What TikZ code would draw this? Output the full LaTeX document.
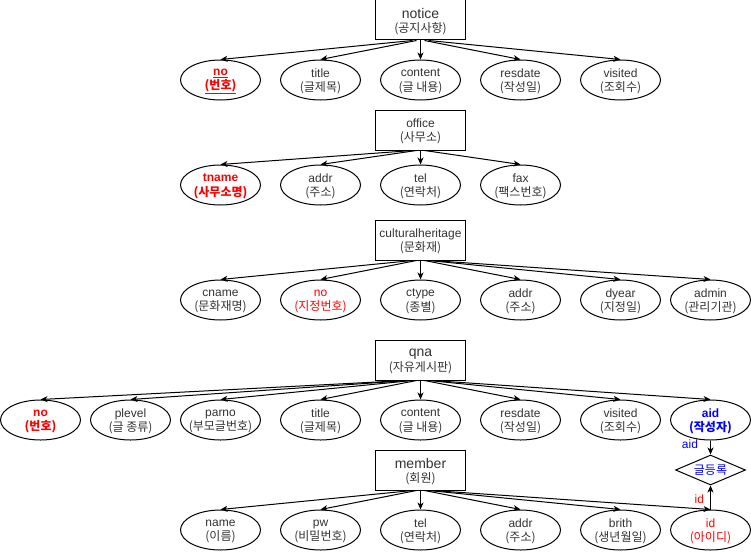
\documentclass[tikz,border=0pt]{standalone}
\usepackage{fontspec}
\setmainfont{Liberation Sans}
\newfontfamily\kr{Noto Sans CJK KR}
\usetikzlibrary{arrows.meta,shapes.geometric}
\definecolor{txt}{HTML}{333333}
\definecolor{myred}{HTML}{FF0000}
\definecolor{myblue}{HTML}{0000FF}
\newcommand{\A}[6]{\node[attr,label={[lbl,#2]center:{#3\\{\kr #4}}}] (#1) at (#5,#6) {};}
\newcommand{\E}[6]{\node[ent,label={[lbl,#2]center:{{\fontsize{#3}{16}\selectfont #4}\\{\kr #5}}}] (#1) at (420.5,#6) {};}
\begin{document}
\begin{tikzpicture}[x=1pt,y=-1pt,
  lbl/.style={align=center,font=\fontsize{12}{14.5}\selectfont,text=txt,inner sep=0pt,yshift=-1.5pt},
  bld/.style={font=\fontsize{12}{14.5}\selectfont\bfseries},
  attr/.style={ellipse,draw,line width=1pt,minimum width=80pt,minimum height=40pt,inner sep=0pt},
  ent/.style={rectangle,draw,line width=1pt,minimum width=90pt,minimum height=40pt,inner sep=0pt},
  rel/.style={diamond,draw,line width=1pt,minimum width=70pt,minimum height=30pt,inner sep=0pt},
  conn/.style={line width=1pt,-{Stealth[length=7pt,width=6pt,inset=2pt]}},
  elbl/.style={inner sep=0pt,font=\fontsize{12}{14}\selectfont},
]
\useasboundingbox (0,0) rectangle (751,551);
\fill[white] (0,0) rectangle (751,551);

% notice
\E{notice}{}{14}{notice}{(공지사항)}{20}
\A{n_no}{text=myred,bld}{\underline{no}}{\underline{(번호)}}{220.5}{80}
\A{n_title}{}{title}{(글제목)}{320.5}{80}
\A{n_content}{}{content}{(글 내용)}{420.5}{80}
\A{n_resdate}{}{resdate}{(작성일)}{520.5}{80}
\A{n_visited}{}{visited}{(조회수)}{620.5}{80}
\foreach \t/\s in {n_no/-8,n_title/-4,n_content/0,n_resdate/4,n_visited/8}
  \draw[conn] ([xshift=\s pt]notice.south) -- (\t.north);

% office
\E{office}{}{12}{office}{(사무소)}{130}
\A{o_tname}{text=myred,bld}{tname}{(사무소명)}{220.5}{185}
\A{o_addr}{}{addr}{(주소)}{320.5}{185}
\A{o_tel}{}{tel}{(연락처)}{420.5}{185}
\A{o_fax}{}{fax}{(팩스번호)}{520.5}{185}
\foreach \t/\s in {o_tname/-8,o_addr/-4,o_tel/0,o_fax/4}
  \draw[conn] ([xshift=\s pt]office.south) -- (\t.north);

% culturalheritage
\E{cult}{}{12}{culturalheritage}{(문화재)}{240}
\A{c_cname}{}{cname}{(문화재명)}{220.5}{300}
\A{c_no}{text=myred}{no}{(지정번호)}{320.5}{300}
\A{c_ctype}{}{ctype}{(종별)}{420.5}{300}
\A{c_addr}{}{addr}{(주소)}{520.5}{300}
\A{c_dyear}{}{dyear}{(지정일)}{620.5}{300}
\A{c_admin}{}{admin}{(관리기관)}{710.5}{300}
\foreach \t/\s in {c_cname/-8,c_no/-4,c_ctype/0,c_addr/4,c_dyear/8,c_admin/11}
  \draw[conn] ([xshift=\s pt]cult.south) -- (\t.north);

% qna
\E{qna}{}{14}{qna}{(자유게시판)}{360}
\A{q_no}{text=myred,bld}{no}{(번호)}{40.5}{420}
\A{q_plevel}{}{plevel}{(글 종류)}{130.5}{420}
\A{q_parno}{}{parno}{(부모글번호)}{220.5}{420}
\A{q_title}{}{title}{(글제목)}{320.5}{420}
\A{q_content}{}{content}{(글 내용)}{420.5}{420}
\A{q_resdate}{}{resdate}{(작성일)}{520.5}{420}
\A{q_visited}{}{visited}{(조회수)}{620.5}{420}
\A{q_aid}{text=myblue,bld}{aid}{(작성자)}{710.5}{420}
\foreach \t/\s in {q_no/-15,q_plevel/-12,q_parno/-8,q_title/-4,q_content/0,q_resdate/4,q_visited/8,q_aid/12}
  \draw[conn] ([xshift=\s pt]qna.south) -- (\t.north);

% member
\E{member}{}{14}{member}{(회원)}{470}
\A{m_name}{}{name}{(이름)}{220.5}{530}
\A{m_pw}{}{pw}{(비밀번호)}{320.5}{530}
\A{m_tel}{}{tel}{(연락처)}{420.5}{530}
\A{m_addr}{}{addr}{(주소)}{520.5}{530}
\A{m_brith}{}{brith}{(생년월일)}{620.5}{530}
\A{m_id}{text=myred}{id}{(아이디)}{710.5}{530}
\foreach \t/\s in {m_name/-8,m_pw/-4,m_tel/0,m_addr/4,m_brith/8,m_id/12}
  \draw[conn] ([xshift=\s pt]member.south) -- (\t.north);

% relationship
\node[rel,label={[lbl,text=myblue,yshift=1pt]center:{\kr 글등록}}] (reg) at (710.5,470) {};
\draw[conn] (q_aid.south) -- node[elbl,pos=0.3,left=12pt,text=myblue] {aid} (reg.north);
\draw[conn] (m_id.north) -- node[elbl,pos=0.44,left=6pt,text=myred] {id} (reg.south);
\end{tikzpicture}
\end{document}
